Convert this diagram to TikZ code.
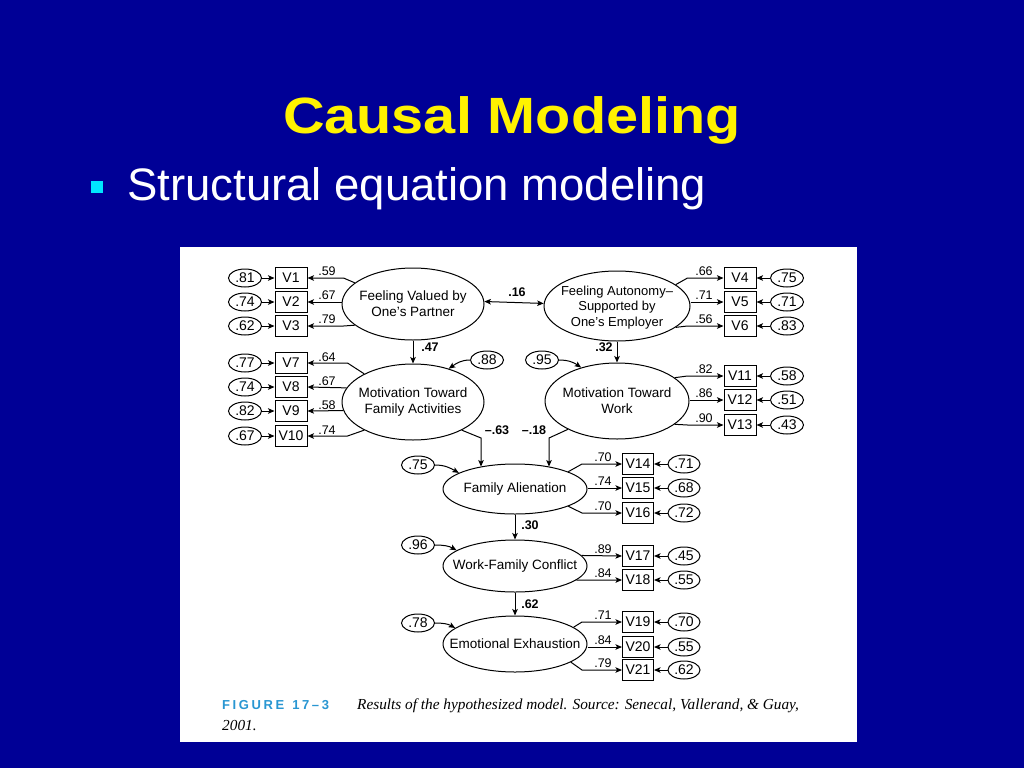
\documentclass[tikz,border=0pt]{standalone}
\usepackage{fontspec}
\setmainfont{Liberation Sans}
\newfontfamily\capserif{Liberation Serif}
\usetikzlibrary{shapes.geometric,arrows.meta}
\definecolor{slideblue}{RGB}{0,0,150}
\definecolor{bulletcyan}{RGB}{0,230,255}
\definecolor{figcyan}{RGB}{40,150,210}
\newcommand\lk{\kern2.6pt}
\newcommand\latfont{\fontsize{13.5}{16}\selectfont}
\newcommand\numfont{\fontsize{12.5}{14}\selectfont}
\newcommand\boxfont{\fontsize{14}{15}\selectfont}
\begin{document}
\begin{tikzpicture}[x=1pt,y=1pt,
  lat/.style={ellipse, draw, line width=1pt, inner sep=0},
  latxt/.style={font=\latfont, align=center, inner sep=0},
  obs/.style={draw, line width=1pt, minimum width=32pt, minimum height=21pt, inner sep=0, font=\boxfont},
  err/.style={ellipse, draw, line width=1pt, minimum width=33pt, minimum height=18pt, inner sep=0, font=\boxfont},
  arr/.style={line width=1pt, -{Stealth[length=6.5pt,width=5.5pt,inset=1.5pt]}},
  dbl/.style={line width=1pt, {Stealth[length=6.5pt,width=5.5pt,inset=1.5pt]}-{Stealth[length=6.5pt,width=5.5pt,inset=1.5pt]}},
  lbl/.style={font=\numfont, inner sep=0},
  blbl/.style={font=\numfont\bfseries, inner sep=0}]
\fill[slideblue] (0,0) rectangle (1024,-768);
\useasboundingbox (0,0) rectangle (1024,-768);
% title and bullet
\node[anchor=base, text=yellow, font=\fontsize{51}{60}\selectfont\bfseries, xscale=1.13] (title) at (512,-133) {Causal Modeling};
\node[fill=bulletcyan, minimum size=12pt, inner sep=0] (bul) at (97,-187) {};
\node[anchor=base west, text=white, font=\fontsize{45.5}{54}\selectfont, inner sep=0] (sub) at (127,-200) {Structural equation modeling};
% figure panel
\node[fill=white, minimum width=677pt, minimum height=495pt, inner sep=0, anchor=north west] (panel) at (180,-247) {};
% latent variables
\node[lat, minimum width=142pt, minimum height=72pt, label={[latxt]center:Feeling Valued by\\One’s Partner}] (FV) at (413,-304) {};
\node[lat, minimum width=146pt, minimum height=70pt, label={[latxt, font=\fontsize{13}{15.5}\selectfont, yshift=-1.5pt]center:Feeling Autonomy–\\Supported by\\One’s Employer}] (FA) at (617,-306) {};
\node[lat, minimum width=142pt, minimum height=76pt, label={[latxt]center:Motivation Toward\\Family Activities}] (MF) at (413,-402) {};
\node[lat, minimum width=144pt, minimum height=76pt, label={[latxt]center:Motivation Toward\\Work}] (MW) at (617,-401) {};
\node[lat, minimum width=144pt, minimum height=50pt, label={[latxt]center:Family Alienation}] (FAl) at (515,-489) {};
\node[lat, minimum width=144pt, minimum height=52pt, label={[latxt]center:Work-Family Conflict}] (WFC) at (515,-566) {};
\node[lat, minimum width=144pt, minimum height=56pt, label={[latxt]center:Emotional Exhaustion}] (EE) at (515,-644) {};
% observed variables, left
\foreach \n/\y/\e in {1/278/.81,2/302/.74,3/326/.62,7/363/.77,8/387/.74,9/411/.82,10/436/.67}{
  \node[obs] (V\n) at (291,-\y) {V\n};
  \node[err] (e\n) at (245,-\y) {\e};
  \draw[arr] (e\n) -- (V\n);
}
% observed variables, right top
\foreach \n/\y/\e in {4/278/.75,5/302/.71,6/326/.83,11/376/.58,12/400/.51,13/425/.43}{
  \node[obs] (V\n) at (740,-\y) {V\n};
  \node[err] (e\n) at (787,-\y) {\e};
  \draw[arr] (e\n) -- (V\n);
}
% observed variables, lower
\foreach \n/\y/\e in {14/464/.71,15/488/.68,16/513/.72,17/556/.45,18/580/.55,19/622/.70,20/647/.55,21/670/.62}{
  \node[obs, minimum width=31pt] (V\n) at (638,-\y) {V\n};
  \node[err, minimum width=32pt] (e\n) at (684,-\y) {\e};
  \draw[arr] (e\n) -- (V\n);
}
% loadings left
\draw[arr] (FV.160) -- ([xshift=36pt]V1.east) -- (V1.east);
\draw[arr] (FV.west |- V2.east) -- (V2.east);
\draw[arr] (FV.200) -- ([xshift=36pt]V3.east) -- (V3.east);
\draw[arr] (MF.150) -- ([xshift=40pt]V7.east) -- (V7.east);
\draw[arr] (MF.168) -- (V8.east);
\draw[arr] (MF.187) -- (V9.east);
\draw[arr] (MF.210) -- ([xshift=40pt]V10.east) -- (V10.east);
\node[lbl] (l1) at (327,-271) {.59};
\node[lbl] (l2) at (327,-295) {.67};
\node[lbl] (l3) at (327,-319) {.79};
\node[lbl] (l7) at (327,-357) {.64};
\node[lbl] (l8) at (327,-381) {.67};
\node[lbl] (l9) at (327,-405) {.58};
\node[lbl] (l10) at (327,-430) {.74};
% loadings right top
\draw[arr] (FA.20) -- ([xshift=-36pt]V4.west) -- (V4.west);
\draw[arr] (FA.east |- V5.west) -- (V5.west);
\draw[arr] (FA.-20) -- ([xshift=-36pt]V6.west) -- (V6.west);
\draw[arr] (MW.22) -- ([xshift=-36pt]V11.west) -- (V11.west);
\draw[arr] (MW.east |- V12.west) -- (V12.west);
\draw[arr] (MW.-22) -- ([xshift=-36pt]V13.west) -- (V13.west);
\node[lbl] (l4) at (704,-271) {.66};
\node[lbl] (l5) at (704,-295) {.71};
\node[lbl] (l6) at (704,-319) {.56};
\node[lbl] (l11) at (704,-369) {.82};
\node[lbl] (l12) at (704,-393) {.86};
\node[lbl] (l13) at (704,-418) {.90};
% loadings lower
\draw[arr] (FAl.18) -- ([xshift=-40pt]V14.west) -- (V14.west);
\draw[arr] (FAl.east |- V15.west) -- (V15.west);
\draw[arr] (FAl.-18) -- ([xshift=-40pt]V16.west) -- (V16.west);
\draw[arr] (WFC.9) -- (V17.west);
\draw[arr] (WFC.-13) -- (V18.west);
\draw[arr] (EE.16) -- ([xshift=-40pt]V19.west) -- (V19.west);
\draw[arr] (EE.east |- V20.west) -- (V20.west);
\draw[arr] (EE.-18) -- ([xshift=-40pt]V21.west) -- (V21.west);
\node[lbl] (l14) at (603,-457) {.70};
\node[lbl] (l15) at (603,-481) {.74};
\node[lbl] (l16) at (603,-506) {.70};
\node[lbl] (l17) at (603,-549) {.89};
\node[lbl] (l18) at (603,-573) {.84};
\node[lbl] (l19) at (603,-615) {.71};
\node[lbl] (l20) at (603,-640) {.84};
\node[lbl] (l21) at (603,-663) {.79};
% disturbances
\node[err] (e88) at (487,-360) {.88};
\node[err] (e95) at (542,-360) {.95};
\node[err] (e75) at (418,-465) {.75};
\node[err] (e96) at (418,-545) {.96};
\node[err] (e78) at (418,-623) {.78};
\draw[arr] (e88.west) to[out=180,in=35] (MF.43);
\draw[arr] (e95.east) to[out=0,in=145] (MW.137);
\draw[arr] (e75.east) to[out=0,in=150] (FAl.164);
\draw[arr] (e96.east) to[out=0,in=150] (WFC.165);
\draw[arr] (e78.east) to[out=0,in=150] (EE.165);
% structural paths
\draw[dbl] (FV.2) -- (FA.178);
\node[blbl] (p16) at (517,-292) {.16};
\draw[arr] (FV.south) -- (MF.north);
\node[blbl] (p47) at (430,-347) {.47};
\draw[arr] (FA.south) -- (MW.north);
\node[blbl] (p32) at (604,-347) {.32};
\coordinate (k63) at (481,-438);
\coordinate (k18) at (549,-438);
\draw[arr] (MF.-30) -- (k63) -- (k63 |- FAl.147);
\draw[arr] (MW.-150) -- (k18) -- (k18 |- FAl.33);
\node[blbl] (p63) at (497,-430) {–.63};
\node[blbl] (p18) at (534,-430) {–.18};
\draw[arr] (FAl.south) -- (WFC.north);
\node[blbl] (p30) at (530,-525) {.30};
\draw[arr] (WFC.south) -- (EE.north);
\node[blbl] (p62) at (530,-604) {.62};
% caption
\node[anchor=base west, text=figcyan, font=\fontsize{13}{14}\selectfont\bfseries, inner sep=0] (figlab) at (222,-709) {F\lk I\lk G\lk U\lk R\lk E\hspace{8pt}1\lk 7\lk –\lk 3};
\node[anchor=base west, font=\capserif\itshape\fontsize{15.3}{18}\selectfont, inner sep=0] (cap1) at (357,-709) {Results of the hypothesized model. Source: Senecal, Vallerand, \& Guay,};
\node[anchor=base west, font=\capserif\itshape\fontsize{15.3}{18}\selectfont, inner sep=0] (cap2) at (222,-730) {2001.};
\end{tikzpicture}
\end{document}
